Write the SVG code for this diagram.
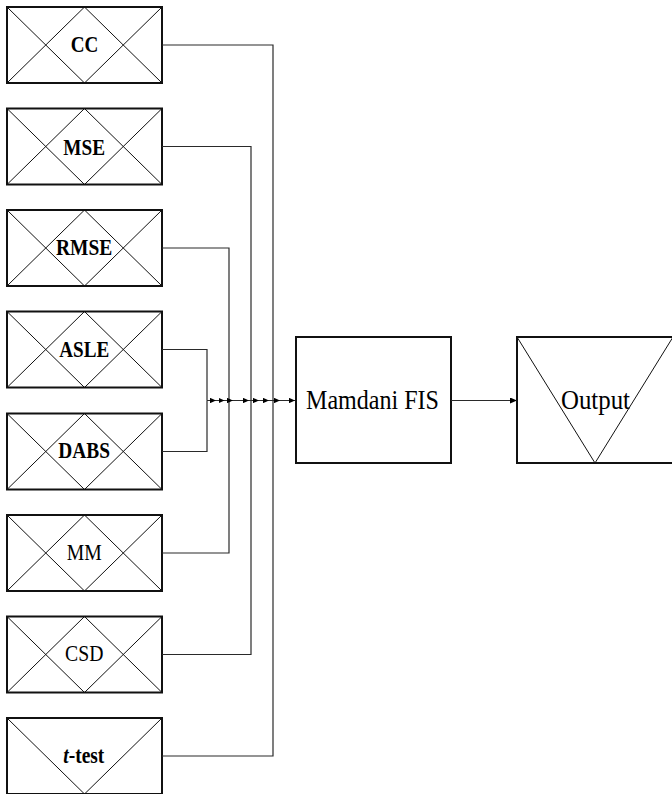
<svg xmlns="http://www.w3.org/2000/svg" width="672" height="794" viewBox="0 0 672 794">
  <style>
    .box { fill: #ffffff; stroke: #111111; stroke-width: 2; }
    .cross { fill: none; stroke: #111111; stroke-width: 1; }
    .wire { fill: none; stroke: #2a2a2a; stroke-width: 1.2; }
    .lbl { font-family: "Liberation Serif", "Times New Roman", serif; font-size: 24px; fill: #000000; }
    .b { font-weight: bold; }
    .big { font-family: "Liberation Serif", "Times New Roman", serif; font-size: 27px; fill: #000000; }
  </style>
  <defs>
    <marker id="tip" viewBox="0 0 6 5.4" refX="6" refY="2.7" markerWidth="6" markerHeight="5.4" markerUnits="userSpaceOnUse" orient="auto">
      <path d="M0,0 L6,2.7 L0,5.4 z" fill="#000000"/>
    </marker>
    <marker id="tipL" viewBox="0 0 7 6" refX="7" refY="3" markerWidth="7" markerHeight="6" markerUnits="userSpaceOnUse" orient="auto">
      <path d="M0,0 L7,3 L0,6 z" fill="#000000"/>
    </marker>
  </defs>

  <!-- input blocks: rectangle with a double cross -->
  <g id="cc">
    <rect class="box" x="7" y="7" width="155" height="76"/>
    <path class="cross" d="M7,7 L84.5,83 L162,7 M7,83 L84.5,7 L162,83"/>
    <text class="lbl b" x="84.5" y="52" text-anchor="middle" textLength="27.6" lengthAdjust="spacingAndGlyphs">CC</text>
  </g>
  <g id="mse">
    <rect class="box" x="7" y="108.5" width="155" height="76"/>
    <path class="cross" d="M7,108.5 L84.5,184.5 L162,108.5 M7,184.5 L84.5,108.5 L162,184.5"/>
    <text class="lbl b" x="84.2" y="155" text-anchor="middle" textLength="41.7" lengthAdjust="spacingAndGlyphs">MSE</text>
  </g>
  <g id="rmse">
    <rect class="box" x="7" y="210" width="155" height="76"/>
    <path class="cross" d="M7,210 L84.5,286 L162,210 M7,286 L84.5,210 L162,286"/>
    <text class="lbl b" x="84.2" y="255" text-anchor="middle" textLength="56.3" lengthAdjust="spacingAndGlyphs">RMSE</text>
  </g>
  <g id="asle">
    <rect class="box" x="7" y="311.5" width="155" height="76"/>
    <path class="cross" d="M7,311.5 L84.5,387.5 L162,311.5 M7,387.5 L84.5,311.5 L162,387.5"/>
    <text class="lbl b" x="84.3" y="356.7" text-anchor="middle" textLength="50" lengthAdjust="spacingAndGlyphs">ASLE</text>
  </g>
  <g id="dabs">
    <rect class="box" x="7" y="413.5" width="155" height="76"/>
    <path class="cross" d="M7,413.5 L84.5,489.5 L162,413.5 M7,489.5 L84.5,413.5 L162,489.5"/>
    <text class="lbl b" x="84.2" y="457.5" text-anchor="middle" textLength="51.7" lengthAdjust="spacingAndGlyphs">DABS</text>
  </g>
  <g id="mm">
    <rect class="box" x="7" y="515" width="155" height="76"/>
    <path class="cross" d="M7,515 L84.5,591 L162,515 M7,591 L84.5,515 L162,591"/>
    <text class="lbl" x="84.2" y="560" text-anchor="middle" textLength="35" lengthAdjust="spacingAndGlyphs">MM</text>
  </g>
  <g id="csd">
    <rect class="box" x="7" y="616.5" width="155" height="76"/>
    <path class="cross" d="M7,616.5 L84.5,692.5 L162,616.5 M7,692.5 L84.5,616.5 L162,692.5"/>
    <text class="lbl" x="84.2" y="660.7" text-anchor="middle" textLength="38.3" lengthAdjust="spacingAndGlyphs">CSD</text>
  </g>
  <g id="ttest">
    <rect class="box" x="7" y="718" width="155" height="76"/>
    <path class="cross" d="M7,718 L84.5,794 L162,718"/>
    <text class="lbl b" x="83.8" y="762.7" text-anchor="middle" textLength="41" lengthAdjust="spacingAndGlyphs"><tspan font-style="italic">t</tspan>-test</text>
  </g>

  <!-- inference block -->
  <g id="mamdani">
    <rect class="box" x="296" y="337" width="155" height="126"/>
    <text class="big" x="372.5" y="409.3" text-anchor="middle" textLength="133" lengthAdjust="spacingAndGlyphs">Mamdani FIS</text>
  </g>

  <!-- output block: rectangle with inverted triangle -->
  <g id="output">
    <rect class="box" x="517" y="337" width="157" height="126"/>
    <path class="cross" d="M517,337 L595,463 L673,337" stroke-width="1.3"/>
    <text class="big" x="595.5" y="409" text-anchor="middle" textLength="69" lengthAdjust="spacingAndGlyphs">Output</text>
  </g>

  <!-- connectors -->
  <g id="connectors">
    <polyline class="wire" points="162,45 273,45 273,400.5"/>
    <polyline class="wire" points="162,756 273,756 273,400.5"/>
    <polyline class="wire" points="162,146.5 251,146.5 251,400.5"/>
    <polyline class="wire" points="162,654.5 251,654.5 251,400.5"/>
    <polyline class="wire" points="162,248 229,248 229,400.5"/>
    <polyline class="wire" points="162,553 229,553 229,400.5"/>
    <polyline class="wire" points="162,349.5 207,349.5 207,400.5"/>
    <polyline class="wire" points="162,451.5 207,451.5 207,400.5"/>
    <!-- shared feed into the FIS, one arrowhead per input -->
    <path class="wire" stroke="#000000" d="M207,400.5 H216 H224.5 H233 H249 H259 H269 H280 H295" marker-mid="url(#tip)" marker-end="url(#tip)"/>
    <path class="wire" stroke="#000000" d="M451,400.5 H517" marker-end="url(#tipL)"/>
  </g>
</svg>
